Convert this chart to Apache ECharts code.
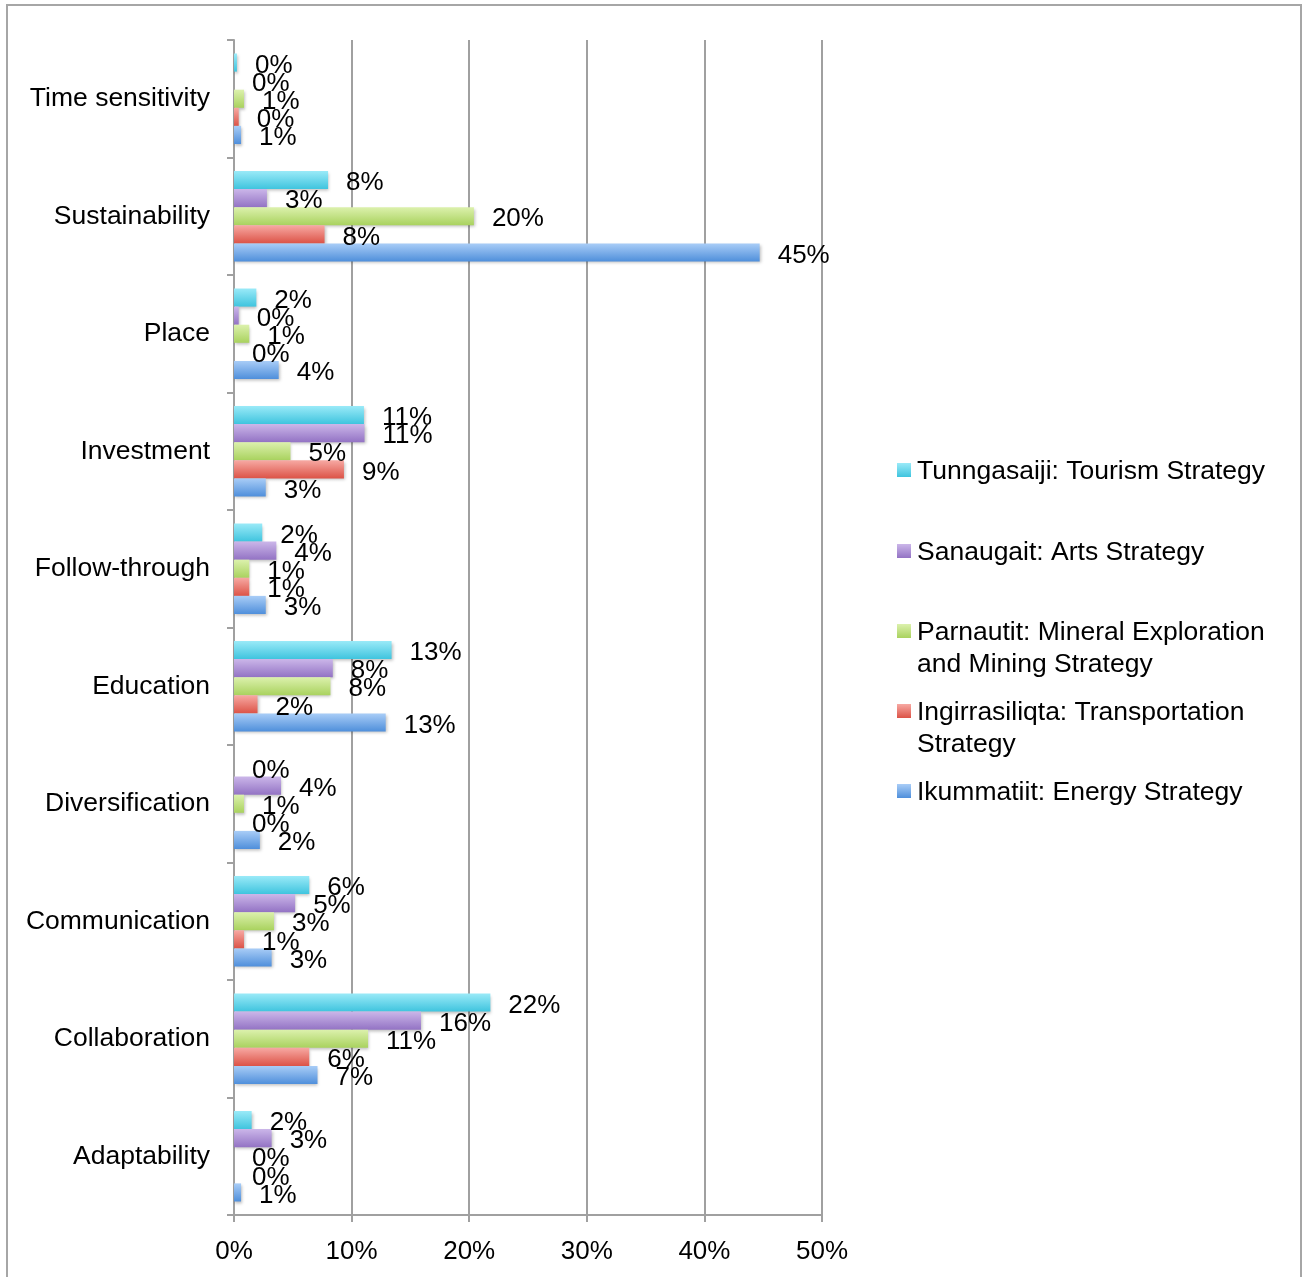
<!DOCTYPE html>
<html><head><meta charset="utf-8">
<script src="https://cdn.jsdelivr.net/npm/echarts@6/dist/echarts.min.js"></script>
<style>html,body{margin:0;padding:0;background:#fff}#c{width:1302px;height:1277px}</style>
</head><body><div id="c"></div>
<script>
const categories = ['Time sensitivity','Sustainability','Place','Investment','Follow-through','Education','Diversification','Communication','Collaboration','Adaptability'];
const seriesNames = ['Tunngasaiji: Tourism Strategy','Sanaugait: Arts Strategy','Parnautit: Mineral Exploration and Mining Strategy','Ingirrasiliqta: Transportation Strategy','Ikummatiit: Energy Strategy'];
const legendLabels = ['Tunngasaiji: Tourism Strategy','Sanaugait: Arts Strategy','Parnautit: Mineral Exploration\nand Mining Strategy','Ingirrasiliqta: Transportation\nStrategy','Ikummatiit: Energy Strategy'];
const tourism =        [0.25, 8.0, 1.9, 11.05, 2.4, 13.4, 0.0, 6.4, 21.8, 1.5];
const arts =           [0.0, 2.8, 0.4, 11.1, 3.6, 8.4, 4.0, 5.2, 15.9, 3.2];
const mineral =        [0.85, 20.4, 1.3, 4.8, 1.3, 8.2, 0.85, 3.4, 11.4, 0.0];
const transportation = [0.4, 7.7, 0.0, 9.35, 1.3, 2.0, 0.0, 0.85, 6.4, 0.0];
const energy =         [0.6, 44.7, 3.8, 2.7, 2.7, 12.9, 2.2, 3.2, 7.1, 0.6];
const xTicks = [0, 10, 20, 30, 40, 50];

const allData = [tourism, arts, mineral, transportation, energy];
const colors = [
  ['#9aeaf8', '#3fc4de'],
  ['#cbb6e9', '#9373c4'],
  ['#dcf1ad', '#a9d25e'],
  ['#f7a9a3', '#dc5347'],
  ['#a9cdf7', '#4f8fdb']
];
function grad(c){
  return new echarts.graphic.LinearGradient(0,0,0,1,[{offset:0,color:c[0]},{offset:1,color:c[1]}]);
}
const mainFont = '"Liberation Sans",Arial,sans-serif';

const chart = echarts.init(document.getElementById('c'), null, {renderer:'canvas'});
const series = allData.map((d,i)=>({
  name: seriesNames[i],
  type: 'bar',
  data: d,
  barGap: '0%',
  barCategoryGap: '23%',
  itemStyle: {color: grad(colors[i]), shadowColor:'rgba(0,0,0,0.25)', shadowBlur:3, shadowOffsetX:1, shadowOffsetY:2},
  label: {
    show: true, position: 'right', distance: 18, offset: [0, 3],
    formatter: p => Math.round(p.value) + '%',
    fontFamily: mainFont, fontSize: 26, color: '#000'
  },
  emphasis: {disabled: true}
}));

const graphics = [
  {type:'rect', shape:{x:7,y:5,width:1294,height:1290}, style:{fill:'none', stroke:'#a6a6a6', lineWidth:2}, silent:true}
];
const legendTops = [471, 552, 632, 712, 792];
legendLabels.forEach((t,i)=>{
  graphics.push({type:'rect', shape:{x:897,y:legendTops[i]-8,width:14,height:14}, style:{fill:grad(colors[i])}});
  graphics.push({type:'text', x:917, y:legendTops[i]-15, style:{text:t, font:'26.5px '+mainFont, fill:'#000', lineHeight:32, verticalAlign:'top'}});
});

chart.setOption({
  animation: false,
  backgroundColor: '#fff',
  grid: {left: 234, right: 480, top: 40, bottom: 62, containLabel: false},
  xAxis: {
    type: 'value', min: 0, max: 50, interval: 10,
    axisLine: {show: true, lineStyle: {color: '#a0a0a0', width: 2}},
    axisTick: {show: true, length: 7, lineStyle: {color: '#a0a0a0', width: 2}},
    splitLine: {show: true, lineStyle: {color: '#a0a0a0', width: 2}},
    axisLabel: {formatter: v => xTicks.indexOf(v) >= 0 ? v + '%' : '', fontFamily: mainFont, fontSize: 26, color: '#000', margin: 24}
  },
  yAxis: {
    type: 'category', data: categories, inverse: true,
    axisLine: {show: true, lineStyle: {color: '#a0a0a0', width: 2}},
    axisTick: {show: true, length: 7, lineStyle: {color: '#a0a0a0', width: 2}},
    axisLabel: {fontFamily: mainFont, fontSize: 26.5, color: '#000', margin: 24}
  },
  series: series,
  graphic: graphics
});
</script></body></html>
